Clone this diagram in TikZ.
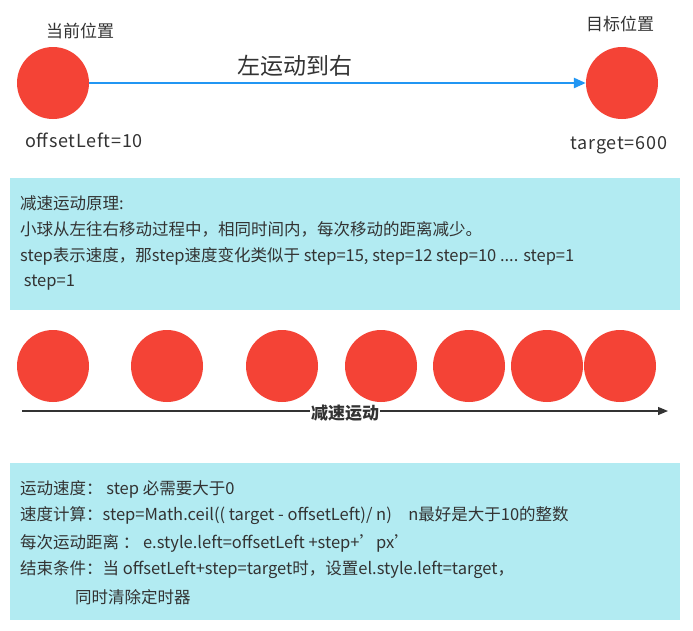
\documentclass[tikz,border=0pt]{standalone}
\usepackage{fontspec}
\setmainfont{Noto Sans CJK SC}
\usetikzlibrary{arrows.meta}
\definecolor{ballred}{HTML}{F44336}
\definecolor{boxcyan}{HTML}{B2EBF2}
\definecolor{arrblue}{HTML}{2196F3}
\begin{document}
\begin{tikzpicture}[x=1pt,y=-1pt,
  ball/.style={circle,fill=ballred,minimum size=72pt,inner sep=0pt},
  lbl/.style={font=\fontsize{17}{20}\selectfont,text=black!80,inner sep=0pt},
  boxtxt/.style={font=\fontsize{16.5}{20}\selectfont,text=black!80,anchor=west,inner sep=0pt}]
\useasboundingbox (0,0) rectangle (693,630);
\fill[white] (0,0) rectangle (693,630);
% top
\node[ball] (a) at (53,83) {};
\node[ball] (b) at (622,83) {};
\draw[arrblue,line width=2.5pt,-{Triangle[length=12pt,width=10pt]}] (a.east) -- (b.west);
\node[lbl] (t1) at (80,31) {当前位置};
\node[lbl] (t2) at (620,24) {目标位置};
\node[lbl,font=\fontsize{23}{26}\selectfont] (t3) at (295,66) {左运动到右};
\node[lbl,font=\fontsize{18}{20}\selectfont\addfontfeatures{LetterSpace=4}] (t4) at (84,140) {offsetLeft=10};
\node[lbl,font=\fontsize{18}{20}\selectfont\addfontfeatures{LetterSpace=4}] (t5) at (619,145) {target=600};
% box 1
\fill[boxcyan] (10,178) rectangle (680,310);
\node[boxtxt] (l1) at (20,203) {减速运动原理:};
\node[boxtxt] (l2) at (20,229) {小球从左往右移动过程中，相同时间内，每次移动的距离减少。};
\node[boxtxt] (l3) at (20,256) {step表示速度，那step速度变化类似于 step=15, step=12 step=10 .... step=1};
\node[boxtxt] (l4) at (20,282) {\ step=1};
% balls row
\foreach \x/\n in {53/c1,167/c2,282/c3,381/c4,469/c5,547/c6,620/c7}
  \node[ball] (\n) at (\x,366) {};
\coordinate (s) at (22,411);
\coordinate (e) at (668,411);
\draw[black!80,line width=1.2pt,-{Triangle[length=10pt,width=8pt]}] (s) -- (e);
\node[fill=white,inner sep=1pt,font=\fontsize{17}{20}\selectfont\bfseries,text=black!80] (m) at (345,413) {减速运动};
% box 2
\fill[boxcyan] (10,463) rectangle (680,620);
\node[boxtxt] (k1) at (20,489) {运动速度： step 必需要大于0};
\node[boxtxt] (k2) at (20,516) {速度计算：step=Math.ceil(( target - offsetLeft)/ n)\quad n最好是大于10的整数};
\node[boxtxt] (k3) at (20,543) {每次运动距离 ： e.style.left=offsetLeft +step+\char"27 px\char"27};
\node[boxtxt] (k4) at (20,570) {结束条件：当 offsetLeft+step=target时，设置el.style.left=target，};
\node[boxtxt] (k5) at (75,597) {同时清除定时器};
\end{tikzpicture}
\end{document}
